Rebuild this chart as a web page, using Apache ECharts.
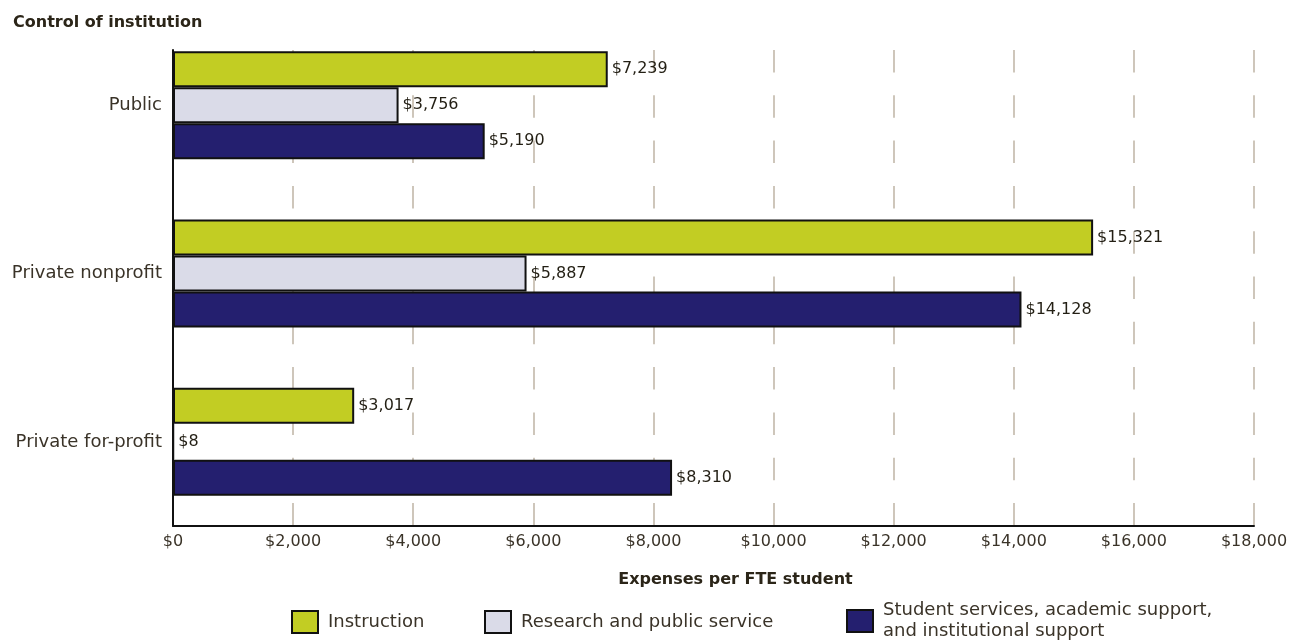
<!DOCTYPE html>
<html>
<head>
<meta charset="utf-8">
<script src="https://cdn.jsdelivr.net/npm/echarts@6/dist/echarts.min.js"></script>
<style>
html,body{margin:0;padding:0;background:#fff;}
#chart{width:1291px;height:642px;}
</style>
</head>
<body>
<div id="chart"></div>
<script>
const categories = ['Public', 'Private nonprofit', 'Private for-profit'];
const seriesNames = ['Instruction', 'Research and public service', 'Student services, academic support, and institutional support'];
const instruction = [7239, 15321, 3017];
const research = [3756, 5887, 8];
const studentServices = [5190, 14128, 8310];
const xTicks = [0, 2000, 4000, 6000, 8000, 10000, 12000, 14000, 16000, 18000];
const colors = ['#c2cd23', '#dadbe8', '#241f6f'];

const FONT = 'DejaVu Sans';
const TXT = '#2b2518';
const fmt = v => '$' + Number(v).toLocaleString('en-US');

const chart = echarts.init(document.getElementById('chart'), null, {renderer: 'canvas'});

function barSeries(name, data, color) {
  return {
    name: name,
    type: 'bar',
    xAxisIndex: 0,
    yAxisIndex: 0,
    data: data,
    barWidth: 36,
    barGap: '0%',
    itemStyle: {color: color, borderColor: '#111', borderWidth: 2},
    label: {
      show: true, position: 'right', distance: 4,
      formatter: p => fmt(p.value),
      fontFamily: FONT, fontSize: 16, color: '#231f14'
    },
    emphasis: {disabled: true},
    z: 3
  };
}

const legendBase = {
  orient: 'horizontal', top: 605, icon: 'rect', itemWidth: 26, itemHeight: 22,
  selectedMode: false,
  textStyle: {fontFamily: FONT, fontSize: 18, color: '#3a3328', lineHeight: 21, padding: [0, 0, 0, 5]}
};

const option = {
  backgroundColor: '#fff',
  animation: false,
  title: {
    text: 'Control of institution', left: 8, top: 10,
    textStyle: {fontFamily: FONT, fontSize: 16, fontWeight: 'bold', color: TXT}
  },
  legend: [
    Object.assign({}, legendBase, {left: 286, data: [seriesNames[0]]}),
    Object.assign({}, legendBase, {left: 479, data: [seriesNames[1]]}),
    Object.assign({}, legendBase, {left: 841, top: 595, data: [seriesNames[2]],
      formatter: () => 'Student services, academic support,\nand institutional support'})
  ],
  grid: [
    {left: 173, right: 37, top: 21, bottom: 116, containLabel: false},
    {left: 173, right: 37, top: 50, bottom: 116, containLabel: false}
  ],
  xAxis: [
    {
      type: 'value', gridIndex: 0, min: 0, max: 18000, interval: 2000,
      show: false
    },
    {
      type: 'value', gridIndex: 1, min: xTicks[0], max: xTicks[xTicks.length - 1], interval: 2000,
      name: 'Expenses per FTE student', nameLocation: 'middle', nameGap: 46,
      nameTextStyle: {fontFamily: FONT, fontSize: 16, fontWeight: 'bold', color: TXT, padding: [0, 0, 0, 44]},
      axisLine: {show: true, lineStyle: {color: '#111', width: 2}},
      axisTick: {show: false},
      axisLabel: {formatter: v => fmt(v), fontFamily: FONT, fontSize: 16, color: '#3a3328', margin: 8},
      splitLine: {show: true, lineStyle: {color: '#c6bdaf', width: 1.7, type: [22.5, 22.8]}}
    }
  ],
  yAxis: [
    {
      type: 'category', gridIndex: 0, data: categories, inverse: true,
      axisLine: {show: false}, axisTick: {show: false},
      axisLabel: {fontFamily: FONT, fontSize: 18, color: '#3a3328', margin: 11}
    },
    {
      type: 'value', gridIndex: 1, min: 0, max: 1,
      axisLine: {show: true, lineStyle: {color: '#111', width: 2}},
      axisTick: {show: false}, axisLabel: {show: false}, splitLine: {show: false}
    }
  ],
  series: [
    barSeries(seriesNames[0], instruction, colors[0]),
    barSeries(seriesNames[1], research, colors[1]),
    barSeries(seriesNames[2], studentServices, colors[2])
  ]
};
chart.setOption(option);
</script>
</body>
</html>
